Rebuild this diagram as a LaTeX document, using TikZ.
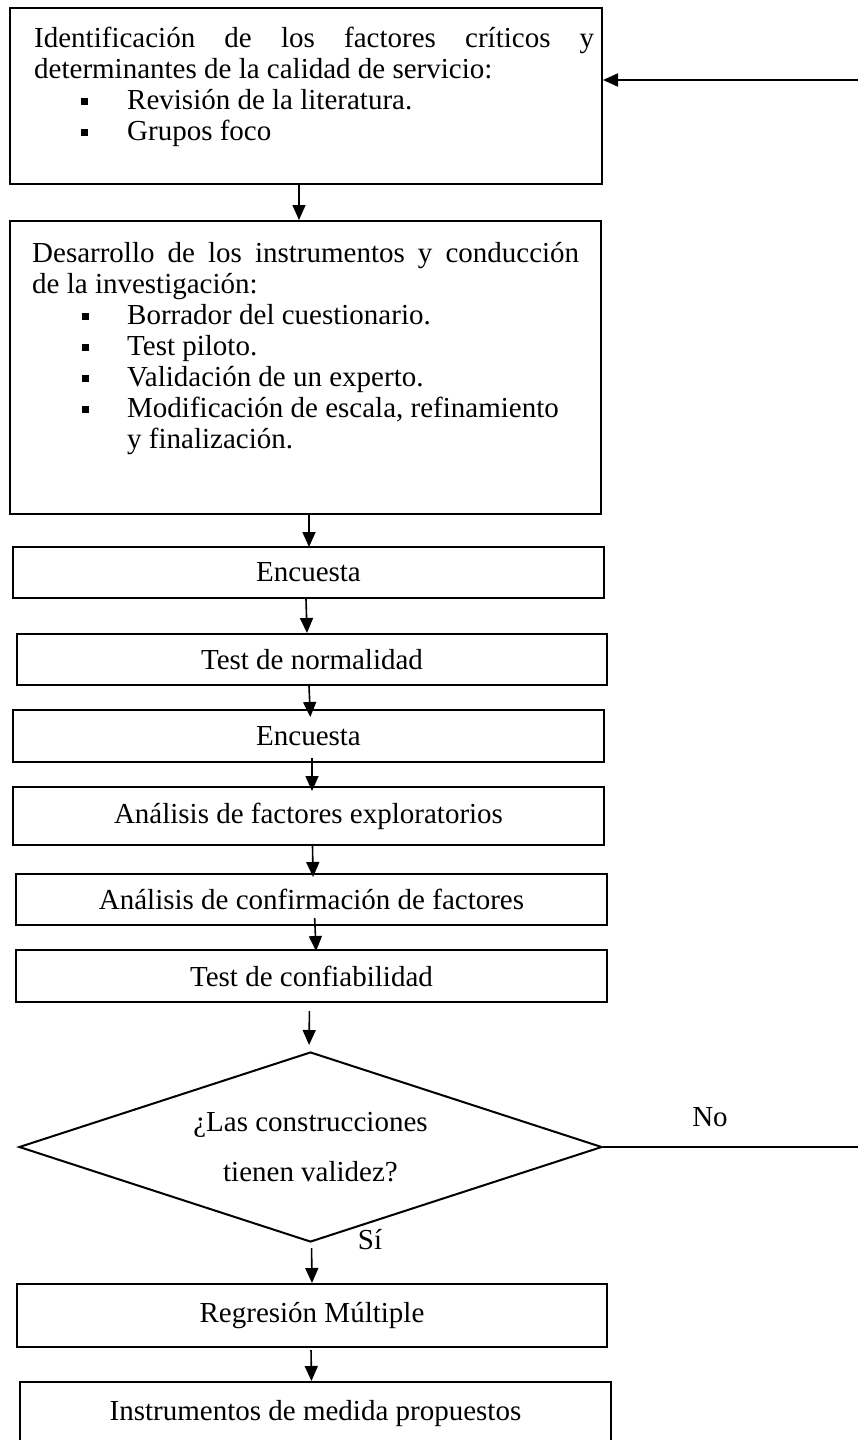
\documentclass[tikz,border=0pt]{standalone}
\usepackage{fontspec}
\setmainfont{Liberation Serif}
\usetikzlibrary{arrows.meta,shapes.geometric}
\newcommand\resetspaces{\spaceskip=0pt\xspaceskip=0pt\relax}
\newcommand\justline[2]{\makebox[#1][s]{\spaceskip=.25em plus 1fil\relax #2}}
\newcommand\bulletitem[2]{\hspace*{#1}\makebox[#2][l]{\rule[4pt]{7pt}{7pt}}}
\tikzset{
  boxnode/.style={draw, line width=2pt, inner sep=0pt, font=\fontsize{29}{31}\selectfont},
  txt/.style={inner sep=0pt, align=left, font=\fontsize{29}{31}\selectfont},
  lbl/.style={inner sep=0pt, font=\fontsize{29}{31}\selectfont},
  flow/.style={-{Triangle[length=15pt,width=13pt]}, line width=1.6pt},
}
\begin{document}
\begin{tikzpicture}[x=1pt,y=-1pt]
\useasboundingbox (0,0) rectangle (858,1440);
\clip (0,0) rectangle (858,1440);
% boxes
\node[boxnode, minimum width=592pt, minimum height=176pt] (b1) at (306,96) {};
\node[txt, text width=560pt, anchor=north west] (t1) at (34,25) {\resetspaces\rule{0pt}{22pt}\justline{560pt}{Identificación de los factores críticos y}\\
determinantes de la calidad de servicio:\\
\bulletitem{47pt}{46pt}Revisión de la literatura.\\
\bulletitem{47pt}{46pt}Grupos foco};
\node[boxnode, minimum width=591pt, minimum height=293pt] (b2) at (305.5,367.5) {};
\node[txt, text width=547pt, anchor=north west] (t2) at (32,240) {\resetspaces\rule{0pt}{22pt}\justline{547pt}{Desarrollo de los instrumentos y conducción}\\
de la investigación:\\
\bulletitem{50pt}{45pt}Borrador del cuestionario.\\
\bulletitem{50pt}{45pt}Test piloto.\\
\bulletitem{50pt}{45pt}Validación de un experto.\\
\bulletitem{50pt}{45pt}Modificación de escala, refinamiento\\
\hspace*{95pt}y finalización.};
\node[boxnode, minimum width=591pt, minimum height=51pt] (b3) at (308.5,572.5) {Encuesta};
\node[boxnode, minimum width=590pt, minimum height=51pt] (b4) at (312,659.5) {Test de normalidad};
\node[boxnode, minimum width=591pt, minimum height=52pt] (b5) at (308.5,736) {Encuesta};
\node[boxnode, minimum width=591pt, minimum height=58pt] (b6) at (308.5,816) {Análisis de factores exploratorios};
\node[boxnode, minimum width=591pt, minimum height=51pt] (b7) at (311.5,899.5) {Análisis de confirmación de factores};
\node[boxnode, minimum width=591pt, minimum height=52pt] (b8) at (311.5,976) {Test de confiabilidad};
\node[boxnode, diamond, aspect=3, align=center, minimum width=583pt, minimum height=190pt] (d) at (310.5,1147) {\resetspaces ¿Las construcciones\\[19pt]tienen validez?};
\node[boxnode, minimum width=590pt, minimum height=63pt] (b9) at (312,1315.5) {Regresión Múltiple};
\node[boxnode, minimum width=591pt, minimum height=63pt] (b10) at (315.5,1413.5) {Instrumentos de medida propuestos};
% labels
\node[lbl] (no) at (710,1117) {No};
\node[lbl] (si) at (370,1240) {Sí};
% connectors
\draw[flow] ([xshift=-7pt]b1.south) -- ([xshift=-6.5pt]b2.north);
\draw[flow, shorten >=-1pt] ([xshift=3.5pt]b2.south) -- ([xshift=0.5pt]b3.north);
\draw[flow] ([xshift=-2.5pt]b3.south) -- ([xshift=-5pt]b4.north);
\draw[flow, shorten <=-2pt, shorten >=-8pt] ([xshift=-3pt]b4.south) -- ([xshift=1.5pt]b5.north);
\draw[flow, shorten <=-5pt, shorten >=-5pt] ([xshift=3.5pt]b5.south) -- ([xshift=3.5pt]b6.north);
\draw[flow, shorten <=-2pt, shorten >=-4pt] ([xshift=4pt]b6.south) -- ([xshift=1.5pt]b7.north);
\draw[flow, shorten <=-8pt, shorten >=-2pt] ([xshift=3.5pt]b7.south) -- ([xshift=4.5pt]b8.north);
\draw[flow, shorten <=8pt, shorten >=6pt] ([xshift=-2pt]b8.south) -- ([xshift=-1.5pt]d.north);
\draw[flow, shorten <=5pt] ([xshift=1pt]d.south) -- (b9.north);
\draw[flow, shorten <=2pt] ([xshift=-1pt]b9.south) -- ([xshift=-4pt]b10.north);
% feedback loop
\coordinate (fb) at (870,80);
\draw[flow, line width=2pt] (d.east) -- (d.east -| fb) -- (fb) -- (fb -| b1.east);
\end{tikzpicture}
\end{document}
